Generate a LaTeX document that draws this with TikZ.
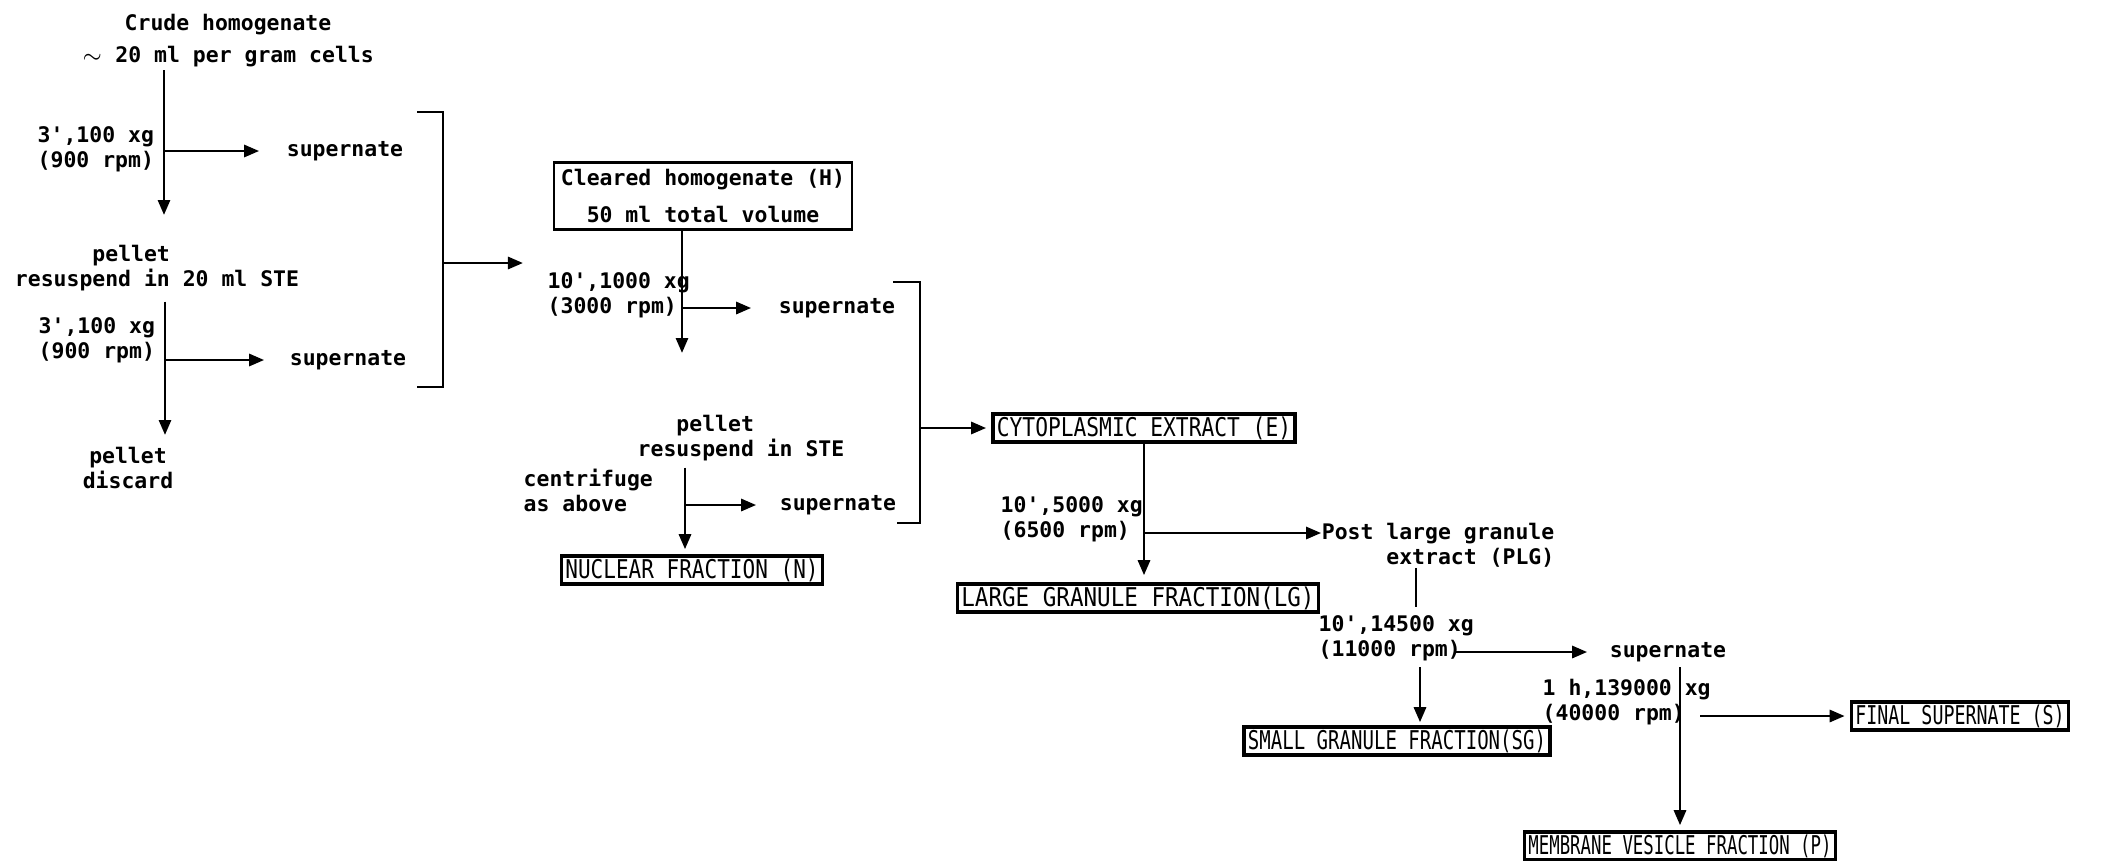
\documentclass[tikz,border=0pt]{standalone}
\usepackage{fontspec}
\usepackage{graphicx}
\usepackage{tikz}
\usetikzlibrary{arrows.meta,positioning}
\newfontfamily\tw{DejaVu Sans Mono}
\newcommand{\fraclab}[2]{\resizebox*{#1}{2.3mm}{\tw\mdseries #2}}

\begin{document}
\begin{tikzpicture}[x=0.01cm, y=-0.01cm, font=\tw\bfseries\fontsize{6.1}{7.1}\selectfont,
  txt/.style={inner sep=0pt, align=center},
  spin/.style={inner sep=0pt, align=left, anchor=west},
  frac/.style={draw, line width=1pt, inner xsep=0.4mm, inner ysep=0.25mm},
  flow/.style={line width=0.8pt, -{Triangle[length=1.5mm,width=1.2mm]}},
  brk/.style={line width=0.8pt}]
  \useasboundingbox (0,0) rectangle (2118,860);

  % first spin, crude homogenate
  \node[txt, font=\tw\bfseries\fontsize{6.1}{9.1}\selectfont] (crude) at (228,41)
    {Crude homogenate\\$\sim$ 20 ml per gram cells};
  \node[spin] (spin1) at (37,149) {3',100 xg\\(900 rpm)};
  \node[txt] (sup1) at (345,151) {supernate};
  \node[txt] (pel1) at (157,268) {pellet\hphantom{0000}\\resuspend in 20 ml STE};
  \node[spin] (spin2) at (38,340) {3',100 xg\\(900 rpm)};
  \node[txt] (sup2) at (348,360) {supernate};
  \node[txt] (pel2) at (128,468) {pellet\\discard};
  \coordinate (fork1) at (164,151);
  \coordinate (tip1) at (164,215);
  \coordinate (fork2) at (165,360);
  \coordinate (tip2) at (165,435);
  \draw[flow, shorten <=0.2mm] (crude.south -| tip1) -- (tip1);
  \draw[flow, shorten >=2.7mm] (fork1) -- (sup1.west);
  \draw[flow, shorten <=1mm] (pel1.south -| tip2) -- (tip2);
  \draw[flow, shorten >=2.5mm] (fork2) -- (sup2.west);
  % bracket 1
  \coordinate (br1a) at (417,112);
  \coordinate (br1b) at (443,112);
  \coordinate (br1c) at (443,387);
  \coordinate (br1d) at (417,387);
  \coordinate (br1m) at (443,263);
  \coordinate (in1) at (523,263);
  \draw[brk] (br1a) -- (br1b) -- (br1c) -- (br1d);
  \draw[flow] (br1m) -- (in1);

  % cleared homogenate, nuclear spin
  \node[draw, line width=0.6pt, inner sep=0pt, minimum width=2.97cm, minimum height=0.67cm,
    align=center, font=\tw\bfseries\fontsize{6.1}{10.8}\selectfont] (cl) at (703,196)
    {Cleared homogenate (H)\\50 ml total volume};
  \node[spin] (spin3) at (547,295) {10',1000 xg\\(3000 rpm)};
  \node[txt] (sup3) at (837,308) {supernate};
  \node[txt] (pel3) at (741,438) {pellet\hphantom{0000}\\resuspend in STE};
  \node[spin] (cen) at (523,490) {centrifuge\\as above};
  \node[txt] (sup4) at (838,505) {supernate};
  \node[frac] (nuc) at (692,570) {\fraclab{25.3mm}{NUCLEAR FRACTION (N)}};
  \coordinate (fork3) at (682,308);
  \coordinate (tip3) at (682,353);
  \coordinate (fork4) at (685,505);
  \draw[flow] (cl.south -| tip3) -- (tip3);
  \draw[flow, shorten >=2.7mm] (fork3) -- (sup3.west);
  \draw[flow, shorten <=0.6mm, shorten >=0.5mm] (pel3.south -| fork4) -- (nuc.north -| fork4);
  \draw[flow, shorten >=2.3mm] (fork4) -- (sup4.west);
  % bracket 2
  \coordinate (br2a) at (893,282);
  \coordinate (br2b) at (920,282);
  \coordinate (br2c) at (920,523);
  \coordinate (br2d) at (897,523);
  \coordinate (br2m) at (920,428);
  \draw[brk] (br2a) -- (br2b) -- (br2c) -- (br2d);

  % cytoplasmic extract and granule spins
  \node[frac] (cyt) at (1144,428) {\fraclab{29.4mm}{CYTOPLASMIC EXTRACT (E)}};
  \draw[flow, shorten >=0.5mm] (br2m) -- (cyt.west);
  \node[spin] (spin5) at (1000,519) {10',5000 xg\\(6500 rpm)};
  \node[txt, align=right, anchor=east] (plg) at (1555,545) {Post large granule\\extract (PLG)};
  \node[frac] (lg) at (1138,598) {\fraclab{35.3mm}{LARGE GRANULE FRACTION(LG)}};
  \coordinate (fork5) at (1144,533);
  \coordinate (stub) at (1416,607);
  \draw[flow, shorten >=0.7mm] (cyt.south -| fork5) -- (lg.north -| fork5);
  \draw[flow] (fork5) -- (fork5 -| plg.west);
  \draw[brk] (plg.south -| stub) -- (stub);

  \node[spin] (spin6) at (1318,638) {10',14500 xg\\(11000 rpm)};
  \node[txt] (sup5) at (1668,652) {supernate};
  \node[frac] (sg) at (1397,741) {\fraclab{29.8mm}{SMALL GRANULE FRACTION(SG)}};
  \coordinate (fork6) at (1456,652);
  \coordinate (top6) at (1420,667);
  \draw[flow, shorten >=2.2mm] (fork6) -- (sup5.west);
  \draw[flow, shorten >=0.3mm] (top6) -- (top6 |- sg.north);

  % high speed spin
  \node[spin] (spin7) at (1542,702) {1 h,139000 xg\\(40000 rpm)};
  \node[frac] (fin) at (1960,716) {\fraclab{20.9mm}{FINAL SUPERNATE (S)}};
  \node[frac] (mem) at (1680,846) {\fraclab{30.3mm}{MEMBRANE VESICLE FRACTION (P)}};
  \coordinate (fork7) at (1700,716);
  \draw[flow, shorten <=0.5mm, shorten >=0.5mm] (sup5.south -| mem) -- (mem.north);
  \draw[flow, shorten >=0.5mm] (fork7) -- (fin.west);
\end{tikzpicture}
\end{document}
